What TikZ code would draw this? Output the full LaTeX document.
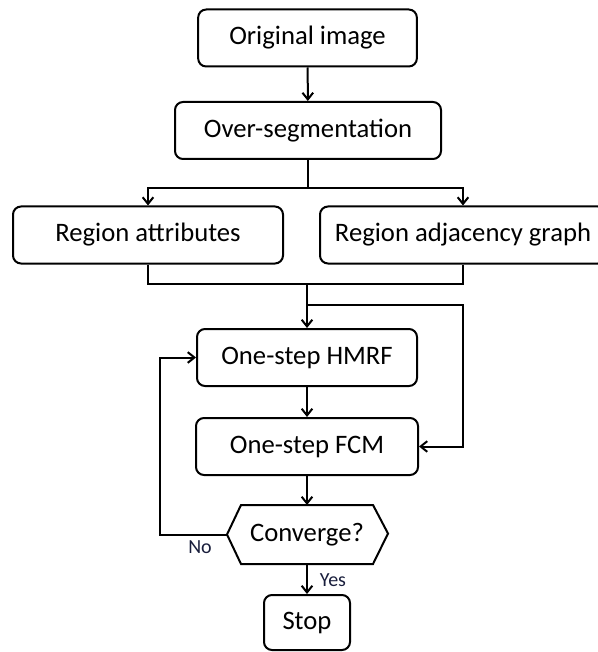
\documentclass[tikz,border=0pt]{standalone}
\usepackage{fontspec}
\setmainfont{Carlito}
\usepackage{tikz}
\usetikzlibrary{positioning}
\usetikzlibrary{arrows.meta}
\usepackage{xcolor}
\definecolor{labelnavy}{RGB}{25,30,60}

\begin{document}
\begin{tikzpicture}[x=0.75pt,y=-0.75pt,
  box/.style={draw,line width=1.5pt,rounded corners=6pt,minimum height=42.75pt,inner sep=0pt,font=\fontsize{20}{24}\selectfont},
  arr/.style={line width=1.5pt,-{Straight Barb[length=5pt,width=8pt]}},
  lin/.style={line width=1.5pt},
  yn/.style={font=\fontsize{15}{18}\selectfont,text=labelnavy}]
\useasboundingbox (0,0) rectangle (597,652);
\node[box,minimum width=164pt] (orig) at (307.5,38) {Original image};
\node[box,minimum width=199.5pt] (over) at (308,130.5) {Over-segmentation};
\node[box,minimum width=202.5pt] (regattr) at (148,235) {Region attributes};
\node[box,minimum width=214.5pt] (regadj) at (463,235) {Region adjacency graph};
\node[box,minimum width=165pt] (hmrf) at (307,357.5) {One-step HMRF};
\node[box,minimum width=166.5pt] (fcm) at (307,446.5) {One-step FCM};
\node[box,minimum width=97.5pt,draw=none,rounded corners=0pt] (conv) at (307,534.5) {Converge?};
\node[box,minimum width=64.5pt,minimum height=41.25pt] (stop) at (307,622.5) {Stop};
% hexagon round the test
\path (conv.west) ++(-14,0) coordinate (convL);
\draw[lin] (conv.north west) -- (conv.north east) -- ++(15,28.5) -- (conv.south east) -- (conv.south west) -- (convL) -- cycle;
% connectors
\draw[arr] (orig) -- (over);
\draw[arr] (over.south) -- ++(0,28) -| (regattr.north);
\draw[arr] (over.south) -- ++(0,28) -| (regadj.north);
\draw[lin] (regattr.south) -- ++(0,19) coordinate (mrg) -| (regadj.south);
\draw[arr] (hmrf.north |- mrg) -- (hmrf.north);
\path (hmrf.north) ++(0,-23) coordinate (fork);
\draw[arr] (fork) -- (fork -| regadj.south) |- (fcm.east);
\draw[arr] (hmrf) -- (fcm);
\draw[arr] (fcm) -- (conv);
\draw[arr] (conv.south) -- (stop.north);
\draw[arr] (convL) -- ++(-67,0) |- (hmrf.west);
\node[yn] (no) at (200,547) {No};
\node[yn] (yes) at (333,580) {Yes};
\end{tikzpicture}
\end{document}
